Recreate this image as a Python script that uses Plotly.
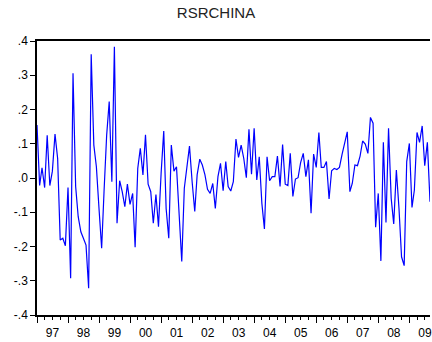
import pandas as pd
import plotly.graph_objects as go

start_month = "1997-01-01"
values = [
    0.155, -0.022, 0.030, -0.028, 0.125, -0.022, 0.020, 0.128, 0.057, -0.181,
    -0.176, -0.198, -0.028, -0.293, 0.306, -0.025, -0.113, -0.157, -0.176, -0.196,
    -0.322, 0.361, 0.096, 0.033, -0.090, -0.205, -0.040, 0.125, 0.223, -0.011,
    0.383, -0.132, -0.008, -0.040, -0.084, -0.018, -0.077, -0.045, -0.202, 0.028,
    0.087, 0.009, 0.126, -0.018, -0.040, -0.132, -0.048, -0.142, 0.014, 0.137,
    -0.089, -0.176, 0.096, 0.020, 0.033, -0.113, -0.244, -0.030, 0.028, 0.093,
    -0.011, -0.098, 0.009, 0.055, 0.038, 0.009, -0.033, -0.045, -0.016, -0.089,
    0.004, 0.043, -0.037, 0.048, -0.025, -0.038, -0.011, 0.114, 0.060, 0.096,
    0.057, 0.001, 0.142, 0.011, 0.145, -0.006, 0.062, -0.074, -0.149, 0.062,
    -0.008, 0.004, 0.004, 0.064, -0.025, 0.098, -0.018, -0.022, 0.072, -0.054,
    -0.003, 0.001, 0.045, 0.072, 0.004, 0.053, -0.103, 0.070, 0.031, 0.133,
    0.031, 0.031, 0.048, -0.061, 0.021, 0.028, 0.025, 0.031, 0.069, 0.106,
    0.135, -0.040, -0.016, 0.038, 0.036, 0.064, 0.108, 0.099, 0.072, 0.177,
    0.160, -0.144, -0.045, -0.242, 0.104, -0.130, 0.145, -0.059, -0.134, 0.023,
    -0.089, -0.230, -0.256, 0.048, 0.101, -0.086, -0.035, 0.133, 0.104, 0.152,
    0.036, 0.104, -0.069,
]
y_tick_values = [0.4, 0.3, 0.2, 0.1, 0.0, -0.1, -0.2, -0.3, -0.4]
y_tick_labels = [".4", ".3", ".2", ".1", ".0", "-.1", "-.2", "-.3", "-.4"]
title_text = "RSRCHINA"

dates = pd.date_range(start_month, periods=len(values), freq="MS")

fig = go.Figure()
fig.add_trace(go.Scatter(
    x=dates, y=values, mode="lines",
    line=dict(color="#0000FF", width=1.2),
    showlegend=False, hoverinfo="skip",
))

font_family = "Arial, Liberation Sans, sans-serif"
fig.update_layout(
    width=432, height=342,
    margin=dict(l=37, r=0, t=41, b=27),
    paper_bgcolor="white", plot_bgcolor="white",
    title=dict(text=title_text, x=0.5, xanchor="center", y=1 - 13 / 342,
               yanchor="middle", yref="container",
               font=dict(family=font_family, size=15, color="#222222")),
    font=dict(family=font_family, size=12, color="black"),
)
fig.update_xaxes(
    range=[dates[0], dates[-1]],
    showgrid=False, zeroline=False,
    showline=True, linecolor="black", linewidth=1.5, mirror=True,
    ticks="outside", ticklen=6, tickcolor="black", tickwidth=1.2,
    dtick="M12", tick0=start_month, tickformat="%y", ticklabelmode="period",
    ticklabeloverflow="allow",
    minor=dict(dtick="M3", ticks="outside", ticklen=3, tickcolor="black", tickwidth=1.2, showgrid=False),
    tickfont=dict(size=12, color="black"),
)
fig.update_yaxes(
    range=[-0.4, 0.4],
    tickvals=y_tick_values, ticktext=y_tick_labels,
    showgrid=False, zeroline=False,
    showline=True, linecolor="black", linewidth=1.5, mirror=False,
    ticks="outside", ticklen=5, tickcolor="black", tickwidth=1.2,
    tickfont=dict(size=12, color="black"),
)

fig.write_html("out.html")
